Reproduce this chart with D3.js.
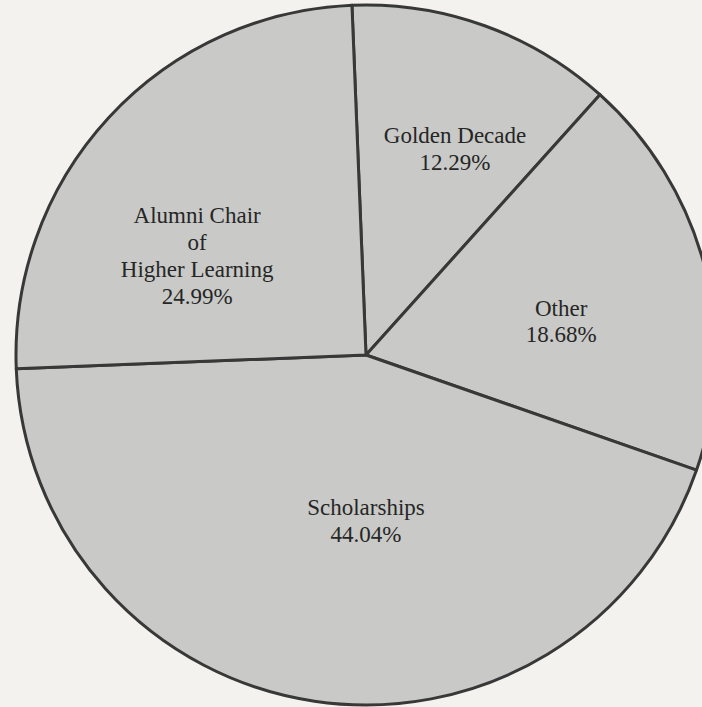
<!DOCTYPE html>
<html>
<head>
<meta charset="utf-8">
<script src="https://cdn.jsdelivr.net/npm/d3@7/dist/d3.min.js"></script>
<style>
  html, body { margin: 0; padding: 0; background: #f3f2ef; }
  svg { display: block; }
</style>
</head>
<body>
<svg id="chart" width="702" height="707"></svg>
<script>
// ---- data ----
const categories = ["Golden Decade", "Other", "Scholarships", "Alumni Chair of Higher Learning"];
const labelLines = [
  ["Golden Decade"],
  ["Other"],
  ["Scholarships"],
  ["Alumni Chair", "of", "Higher Learning"]
];
const percents = [12.29, 18.68, 44.04, 24.99];

// ---- layout ----
const W = 702, H = 707;
const cx = 366, cy = 355, R = 350;
const startDeg = -2.3;               // scan is slightly rotated
// label placement as polar [angle from north in degrees, fraction of radius]
const labelPolar = [[23.3, 0.643], [80.1, 0.566], [180, 0.474], [300.5, 0.56]];
const fontSize = 23, lineGap = 27;

const svg = d3.select("#chart");
const g = svg.append("g").attr("transform", `translate(${cx},${cy})`);

const pie = d3.pie().sort(null).value(d => d)
  .startAngle(startDeg * Math.PI / 180)
  .endAngle((startDeg + 360) * Math.PI / 180);
const arcs = pie(percents);
const arc = d3.arc().innerRadius(0).outerRadius(R);

g.selectAll("path.slice")
  .data(arcs)
  .join("path")
  .attr("class", "slice")
  .attr("d", arc)
  .attr("fill", "#c9cac7")
  .attr("stroke", "#383838")
  .attr("stroke-width", 3)
  .attr("stroke-linejoin", "round");

const labels = g.selectAll("g.label")
  .data(arcs)
  .join("g")
  .attr("class", "label")
  .attr("transform", (d, i) => {
    const a = labelPolar[i][0] * Math.PI / 180;
    const r = labelPolar[i][1] * R;
    return `translate(${r * Math.sin(a)},${-r * Math.cos(a)})`;
  });

labels.each(function (d, i) {
  const lines = labelLines[i].concat([d3.format(".2f")(percents[i]) + "%"]);
  const n = lines.length;
  const t = d3.select(this).append("text")
    .attr("text-anchor", "middle")
    .attr("font-family", "'Liberation Serif', 'Times New Roman', serif")
    .attr("font-size", fontSize)
    .attr("fill", "#262626");
  lines.forEach((s, k) => {
    t.append("tspan")
      .attr("x", 0)
      .attr("y", (k - (n - 1) / 2) * lineGap + fontSize * 0.35)
      .text(s);
  });
});
</script>
</body>
</html>
